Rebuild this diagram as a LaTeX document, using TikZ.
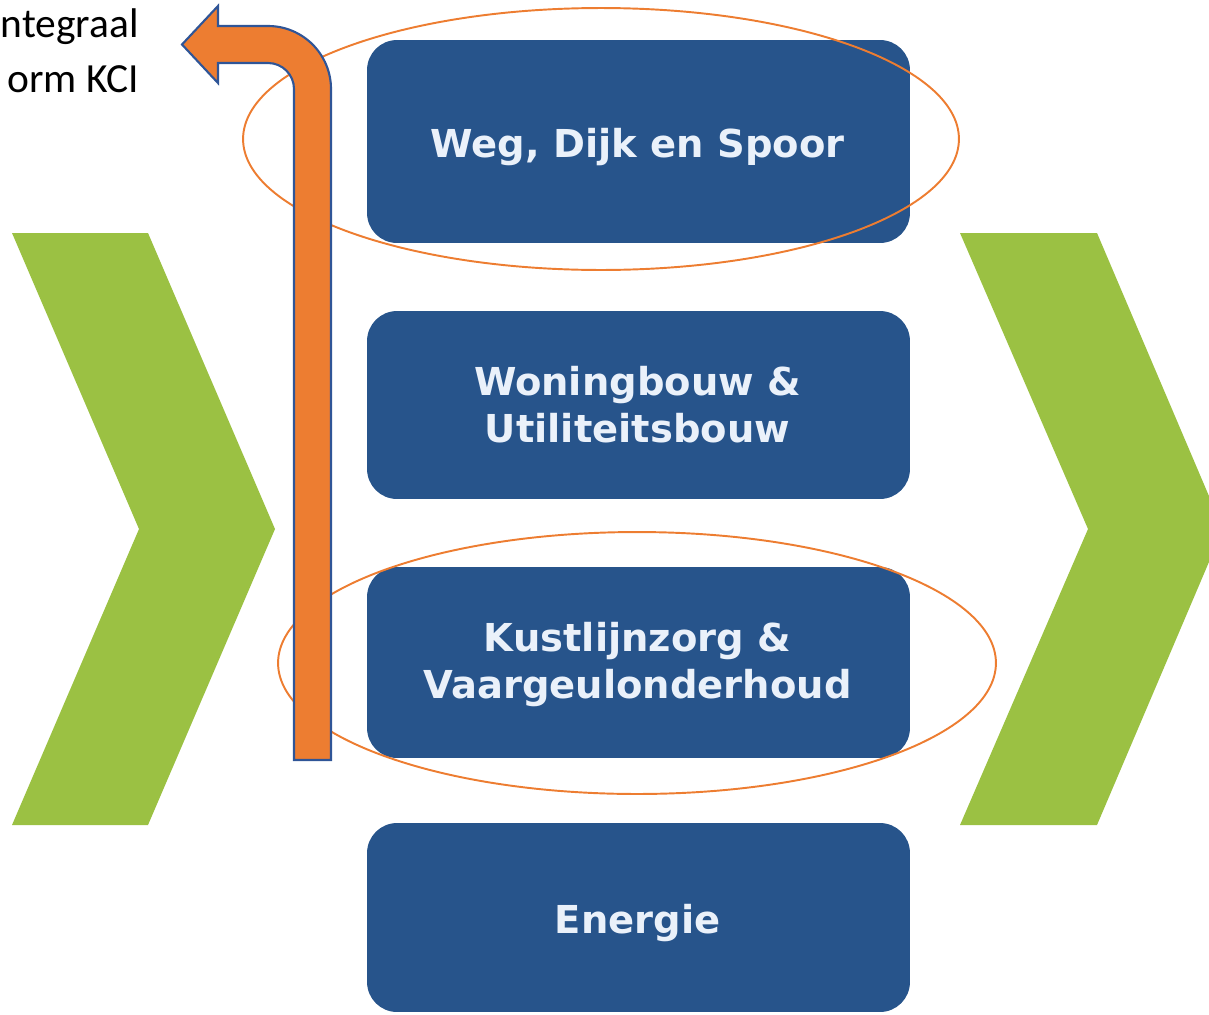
\documentclass[tikz,border=0pt]{standalone}
\usepackage{fontspec}
\setmainfont{Carlito}
\newfontfamily\boxfont{DejaVu Sans}
\definecolor{kgreen}{HTML}{9BC143}
\definecolor{kblue}{HTML}{27548B}
\definecolor{ktext}{HTML}{EAF1FA}
\definecolor{korange}{HTML}{ED7D31}
\definecolor{koutline}{HTML}{2F5597}
\begin{document}
\begin{tikzpicture}[x=0.02cm,y=-0.02cm,
  chev/.style={fill=kgreen, draw=none},
  blok/.style={fill=kblue, draw=none, rounded corners=0.6cm, inner sep=0pt, minimum width=10.86cm},
  blabel/.style={text=ktext, font=\boxfont\bfseries\fontsize{21.9pt}{26.2pt}\selectfont, align=center, anchor=base, inner sep=0pt},
  ring/.style={draw=korange, line width=1.1pt},
  bentarrow/.style={fill=korange, draw=koutline, line width=1.2pt, line join=miter},
  sidetext/.style={anchor=base east, inner sep=0pt, font=\fontsize{23.6pt}{28pt}\selectfont}]
\useasboundingbox (0,0) rectangle (1209,1014);
\clip (0,0) rectangle (1209,1014);
% chevrons
\fill[chev] (12,233) -- (148,233) -- (275,529) -- (148,825) -- (12,825) -- (139,529) -- cycle;
\fill[chev] (960,233) -- (1097,233) -- (1223,529) -- (1097,825) -- (960,825) -- (1088,529) -- cycle;
% boxes
\node[blok, minimum height=4.06cm] (b1) at (638.5,141.5) {};
\node[blok, minimum height=3.76cm] (b2) at (638.5,405) {};
\node[blok, minimum height=3.82cm] (b3) at (638.5,662.5) {};
\node[blok, minimum height=3.78cm] (b4) at (638.5,917.5) {};
% labels (anchor base = baseline of the last line)
\node[blabel] (t1) at (637.5,157) {Weg, Dijk en Spoor};
\node[blabel] (t2) at (637.5,442) {Woningbouw \&\\Utiliteitsbouw};
\node[blabel] (t3) at (637.5,698) {Kustlijnzorg \&\\Vaargeulonderhoud};
\node[blabel] (t4) at (637.5,933) {Energie};
% ellipses
\draw[ring] (601,139) ellipse [x radius=7.16cm, y radius=2.62cm];
\draw[ring] (637,663) ellipse [x radius=7.18cm, y radius=2.62cm];
% bent arrow
\draw[bentarrow] (294,760) -- (294,89) .. controls (294,74.6) and (282.4,63) .. (268,63)
  -- (218,63) -- (218,83) -- (182,44.5) -- (218,6) -- (218,26) -- (268,26)
  .. controls (302.8,26) and (331,54.2) .. (331,89) -- (331,760) -- cycle;
% side text
\node[sidetext] (s1) at (139,37) {ntegraal};
\node[sidetext] (s2) at (139,92) {orm KCI};
\end{tikzpicture}
\end{document}
